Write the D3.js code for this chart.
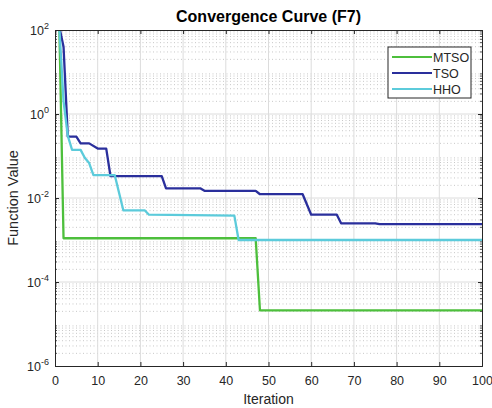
<!DOCTYPE html>
<html>
<head>
<meta charset="utf-8">
<script src="https://cdn.jsdelivr.net/npm/d3@7"></script>
<style>
  body { margin: 0; background: #fff; }
  svg { font-family: "Liberation Sans", Arial, sans-serif; }
</style>
</head>
<body>
<svg id="chart" width="492" height="408"></svg>
<script>
// convergence data (iteration, best value)
const seriesNames = ["MTSO", "TSO", "HHO"];
const seriesColors = ["#4dbf3c", "#2a2f9c", "#5ccbdb"];

const mtsoIter = [1, 2, 47, 48, 100];
const mtsoVal  = [150, 1.1e-3, 1.1e-3, 2.1e-5, 2.1e-5];

const tsoIter = [1, 2, 3, 5, 6, 8, 10, 12, 13, 25, 26, 34, 35, 47, 48, 58, 60, 66, 67, 75, 76, 100];
const tsoVal  = [120, 40, 0.29, 0.29, 0.2, 0.2, 0.15, 0.15, 0.033, 0.033, 0.017, 0.017, 0.0148, 0.0148,
                 0.0123, 0.0123, 0.004, 0.004, 0.0025, 0.0025, 0.0024, 0.0024];

const hhoIter = [1, 2, 3, 4, 6, 7, 8, 9, 14, 16, 21, 22, 42, 43, 100];
const hhoVal  = [120, 2, 0.3, 0.14, 0.14, 0.09, 0.068, 0.035, 0.035, 0.0051, 0.0051, 0.004, 0.0038, 0.001, 0.001];

const xTicks = [0, 10, 20, 30, 40, 50, 60, 70, 80, 90, 100];
const yExps = [2, 0, -2, -4, -6];

const W = 492, H = 408;
const margin = {left: 55, right: 10, top: 30, bottom: 42};
const pw = W - margin.left - margin.right;
const ph = H - margin.top - margin.bottom;

const svg = d3.select("#chart");

svg.append("defs").append("clipPath").attr("id", "clip")
  .append("rect").attr("width", pw).attr("height", ph);

const g = svg.append("g").attr("transform", `translate(${margin.left},${margin.top})`);

const x = d3.scaleLinear().domain([0, 100]).range([0, pw]);
const y = d3.scaleLog().domain([1e-6, 1e2]).range([ph, 0]);

// grid: minor log lines dotted, major lines solid
let minorVals = [];
for (let e = -6; e < 2; e++) {
  for (let m = 2; m <= 9; m++) minorVals.push(m * Math.pow(10, e));
}
g.selectAll(".minor").data(minorVals).enter().append("line")
  .attr("x1", 0).attr("x2", pw)
  .attr("y1", d => y(d)).attr("y2", d => y(d))
  .attr("stroke", "#c8c8c8").attr("stroke-width", 1)
  .attr("stroke-dasharray", "1,2.5");

g.selectAll(".vgrid").data(xTicks.slice(1, -1)).enter().append("line")
  .attr("x1", d => x(d)).attr("x2", d => x(d))
  .attr("y1", 0).attr("y2", ph)
  .attr("stroke", "#dcdcdc").attr("stroke-width", 1);

g.selectAll(".hgrid").data([0, -2, -4]).enter().append("line")
  .attr("x1", 0).attr("x2", pw)
  .attr("y1", d => y(Math.pow(10, d))).attr("y2", d => y(Math.pow(10, d)))
  .attr("stroke", "#dcdcdc").attr("stroke-width", 1);

// curves
const allSeries = [
  mtsoIter.map((it, i) => [it, mtsoVal[i]]),
  tsoIter.map((it, i) => [it, tsoVal[i]]),
  hhoIter.map((it, i) => [it, hhoVal[i]])
];

const line = d3.line().x(d => x(d[0])).y(d => y(d[1]));

const curves = g.append("g").attr("clip-path", "url(#clip)");
allSeries.forEach((s, i) => {
  curves.append("path")
    .datum(s)
    .attr("d", line)
    .attr("fill", "none")
    .attr("stroke", seriesColors[i])
    .attr("stroke-width", 2.3)
    .attr("stroke-linejoin", "round");
});

// axes (box style, ticks inward)
const axisColor = "#262626";
const xAxis = g.append("g").attr("transform", `translate(0,${ph})`)
  .call(d3.axisBottom(x).tickValues(xTicks).tickSize(-4).tickPadding(10).tickFormat(d3.format("d")));
const xTop = g.append("g")
  .call(d3.axisTop(x).tickValues(xTicks).tickSize(-4).tickFormat(""));

let minorTicks = minorVals;
const yLeft = g.append("g")
  .call(d3.axisLeft(y).tickValues(yExps.map(e => Math.pow(10, e))).tickSize(-4).tickFormat(""));
const yRight = g.append("g").attr("transform", `translate(${pw},0)`)
  .call(d3.axisRight(y).tickValues(yExps.map(e => Math.pow(10, e))).tickSize(-4).tickFormat(""));

[yLeft, yRight].forEach((ax, k) => {
  ax.selectAll(".mt").data(minorTicks).enter().append("line")
    .attr("x1", 0).attr("x2", k === 0 ? 2 : -2)
    .attr("y1", d => y(d)).attr("y2", d => y(d))
    .attr("stroke", axisColor).attr("stroke-width", 0.8);
});

[xAxis, xTop, yLeft, yRight].forEach(ax => {
  ax.select(".domain").attr("stroke", axisColor).attr("stroke-width", 1);
  ax.selectAll(".tick line").attr("stroke", axisColor);
  ax.selectAll("text").attr("fill", axisColor).attr("font-size", 12.5)
    .attr("font-family", "'Liberation Sans', Arial, sans-serif");
});

// y tick labels with superscript exponents
const yLab = g.append("g");
yExps.forEach(e => {
  const t = yLab.append("text")
    .attr("x", -6).attr("y", y(Math.pow(10, e)) + 5)
    .attr("text-anchor", "end")
    .attr("font-size", 12.5).attr("fill", axisColor);
  t.append("tspan").text("10");
  t.append("tspan").attr("dy", -6).attr("font-size", 9).text(String(e));
});

// titles
svg.append("text")
  .attr("x", margin.left + pw / 2).attr("y", 22)
  .attr("text-anchor", "middle")
  .attr("font-size", 16).attr("font-weight", "bold").attr("fill", "#000")
  .text("Convergence Curve (F7)");

svg.append("text")
  .attr("x", margin.left + pw / 2).attr("y", 404)
  .attr("text-anchor", "middle")
  .attr("font-size", 14).attr("fill", axisColor)
  .text("Iteration");

svg.append("text")
  .attr("transform", `translate(18,${margin.top + ph / 2}) rotate(-90)`)
  .attr("text-anchor", "middle")
  .attr("font-size", 14.5).attr("fill", axisColor)
  .text("Function Value");

// legend
const leg = svg.append("g").attr("transform", "translate(388,47)");
leg.append("rect").attr("width", 83).attr("height", 51)
  .attr("fill", "#fff").attr("stroke", axisColor).attr("stroke-width", 1);
seriesNames.forEach((name, i) => {
  const ly = 10 + i * 16;
  leg.append("line").attr("x1", 4).attr("x2", 44).attr("y1", ly).attr("y2", ly)
    .attr("stroke", seriesColors[i]).attr("stroke-width", 2.2);
  leg.append("text").attr("x", 45).attr("y", ly + 4.5)
    .attr("font-size", 12.5).attr("fill", axisColor).text(name);
});
</script>
</body>
</html>
